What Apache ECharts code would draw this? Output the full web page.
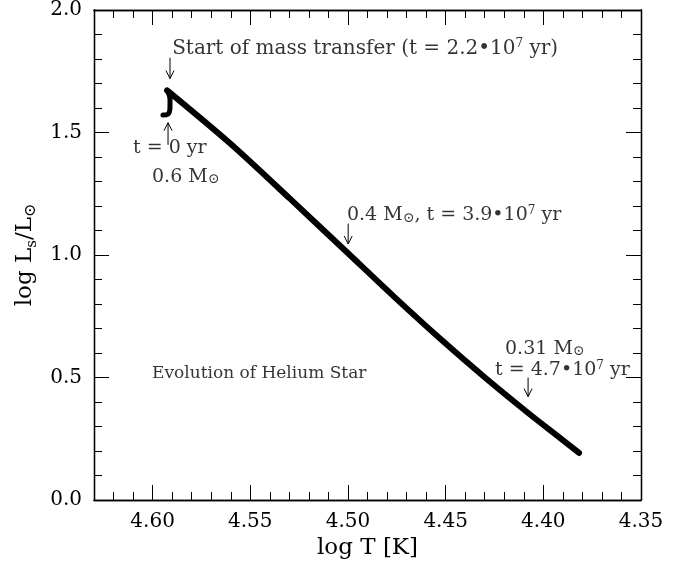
<!DOCTYPE html>
<html>
<head>
<meta charset="utf-8">
<script src="https://cdn.jsdelivr.net/npm/echarts@6/dist/echarts.min.js"></script>
<style>html,body{margin:0;padding:0;background:#fff}#c{width:685px;height:569px}</style>
</head>
<body>
<div id="c"></div>
<script>
// ---- data ----
// initial hook of the track (t = 0 to start of mass transfer)
const hookLogT = [4.5947, 4.5921, 4.5911, 4.5911, 4.5926];
const hookLogL = [1.571, 1.575, 1.603, 1.636, 1.672];
// main track after start of mass transfer
const trackLogT = [4.5926, 4.5604, 4.5297, 4.5005, 4.4759, 4.4529, 4.4299, 4.4068, 4.3915, 4.3817];
const trackLogL = [1.672, 1.456, 1.230, 1.011, 0.826, 0.659, 0.500, 0.349, 0.254, 0.192];
const xTicks = [4.60, 4.55, 4.50, 4.45, 4.40, 4.35];
const yTicks = [0.0, 0.5, 1.0, 1.5, 2.0];
// annotations: anchor (logT at left edge, logL at middle) and text
const noteLogT = [4.590, 4.610, 4.6003, 4.5005, 4.4196, 4.4247, 4.6003];
const noteLogL = [1.840, 1.437, 1.320, 1.162, 0.615, 0.530, 0.518];
const noteText = [
  'Start of mass transfer (t = 2.2•10{sup|7} yr)',
  't = 0 yr',
  '0.6 M{sun|⊙}',
  '0.4 M{sun|⊙}, t = 3.9•10{sup|7} yr',
  '0.31 M{sun|⊙}',
  't = 4.7•10{sup|7} yr',
  'Evolution of Helium Star'
];
// arrows: tail (logT, logL) -> tip (logT, logL)
const arrowFromT = [4.5911, 4.5921, 4.4999, 4.4078];
const arrowFromL = [1.805, 1.450, 1.128, 0.500];
const arrowToT   = [4.5911, 4.5921, 4.4999, 4.4078];
const arrowToL   = [1.720, 1.540, 1.045, 0.422];

const FONT = 'DejaVu Serif';
const hookData = hookLogT.map((t, i) => [t, hookLogL[i]]);
const trackData = trackLogT.map((t, i) => [t, trackLogL[i]]);
const noteData = noteLogT.map((t, i) => ({ value: [t, noteLogL[i]], name: noteText[i] }));
const arrowData = arrowFromT.map((t, i) => [t, arrowFromL[i], arrowToT[i], arrowToL[i]]);
const noteSizes = [20, 19, 19, 19, 19, 19, 17];

function richFor(size) {
  return {
    sup: { fontFamily: FONT, fontSize: Math.round(size * 0.62), color: '#000', verticalAlign: 'top', lineHeight: size + 2 },
    sun: { fontFamily: FONT, fontSize: Math.round(size * 0.72), color: '#000', verticalAlign: 'bottom', lineHeight: size }
  };
}

function xAxisDef(pos, interval, len, withLabels, withName) {
  return {
    type: 'value', position: pos, min: 4.35, max: 4.63, inverse: true, interval: interval,
    axisLine: { show: true, onZero: false, lineStyle: { color: '#000', width: 1.3 } },
    axisTick: { show: true, inside: true, length: len, lineStyle: { color: '#000', width: 1 } },
    axisLabel: withLabels ? {
      show: true, margin: 12, color: '#000', fontFamily: FONT, fontSize: 20,
      showMaxLabel: false,
      formatter: v => xTicks.some(t => Math.abs(t - v) < 1e-6) ? v.toFixed(2) : ''
    } : { show: false },
    splitLine: { show: false },
    name: withName ? 'log T [K]' : '', nameLocation: 'middle', nameGap: 32,
    nameTextStyle: { color: '#000', fontFamily: FONT, fontSize: 23 }
  };
}
function yAxisDef(pos, interval, len, withLabels, withName) {
  return {
    type: 'value', position: pos, min: 0, max: 2, interval: interval,
    axisLine: { show: true, onZero: false, lineStyle: { color: '#000', width: 1.3 } },
    axisTick: { show: true, inside: true, length: len, lineStyle: { color: '#000', width: 1 } },
    axisLabel: withLabels ? {
      show: true, margin: 12, color: '#000', fontFamily: FONT, fontSize: 20,
      formatter: v => yTicks.some(t => Math.abs(t - v) < 1e-6) ? v.toFixed(1) : ''
    } : { show: false },
    splitLine: { show: false },
    name: withName ? 'log L{s|s}/L{o|⊙}' : '', nameLocation: 'middle', nameGap: 54, nameRotate: 90,
    nameTextStyle: {
      color: '#000', fontFamily: FONT, fontSize: 23, lineHeight: 28,
      rich: {
        s: { fontFamily: FONT, fontSize: 15, color: '#000', verticalAlign: 'bottom', lineHeight: 24 },
        o: { fontFamily: FONT, fontSize: 16, color: '#000', verticalAlign: 'bottom', lineHeight: 24 }
      }
    }
  };
}

const chart = echarts.init(document.getElementById('c'), null, { renderer: 'canvas' });
chart.setOption({
  animation: false,
  backgroundColor: '#fff',
  grid: { left: 94, right: 44, top: 6, bottom: 69 },
  xAxis: [
    xAxisDef('bottom', 0.05, 15, true, true),
    xAxisDef('bottom', 0.01, 8, false, false),
    xAxisDef('top', 0.05, 15, false, false),
    xAxisDef('top', 0.01, 8, false, false)
  ],
  yAxis: [
    yAxisDef('left', 0.5, 15, true, true),
    yAxisDef('left', 0.1, 8, false, false),
    yAxisDef('right', 0.5, 15, false, false),
    yAxisDef('right', 0.1, 8, false, false)
  ],
  series: [
    {
      type: 'line', xAxisIndex: 0, yAxisIndex: 0, data: hookData, symbol: 'none', smooth: 0.4,
      lineStyle: { color: '#000', width: 5, join: 'round', cap: 'round' }, silent: true
    },
    {
      type: 'line', xAxisIndex: 0, yAxisIndex: 0, data: trackData, symbol: 'none', smooth: 0.3,
      lineStyle: { color: '#000', width: 6, join: 'round', cap: 'round' }, silent: true
    },
    {
      type: 'scatter', xAxisIndex: 0, yAxisIndex: 0, symbolSize: 0, silent: true,
      data: noteData.map((d, i) => Object.assign({}, d, {
        label: { fontSize: noteSizes[i], rich: richFor(noteSizes[i]) }
      })),
      label: {
        show: true, position: 'right', distance: 0, color: '#000', fontFamily: FONT, fontSize: 19,
        formatter: p => p.name, rich: richFor(19)
      }
    },
    {
      type: 'custom', xAxisIndex: 0, yAxisIndex: 0, data: arrowData, silent: true,
      renderItem: function (params, api) {
        const a = api.coord([api.value(0), api.value(1)]);
        const b = api.coord([api.value(2), api.value(3)]);
        const dx = b[0] - a[0], dy = b[1] - a[1];
        const L = Math.sqrt(dx * dx + dy * dy) || 1;
        const ux = dx / L, uy = dy / L;
        const h = 8, w = 4;
        const p1 = [b[0] - ux * h - uy * w, b[1] - uy * h + ux * w];
        const p2 = [b[0] - ux * h + uy * w, b[1] - uy * h - ux * w];
        return {
          type: 'group',
          children: [
            { type: 'line', shape: { x1: a[0], y1: a[1], x2: b[0], y2: b[1] }, style: { stroke: '#000', lineWidth: 1 } },
            { type: 'polyline', shape: { points: [p1, b, p2] }, style: { stroke: '#000', fill: null, lineWidth: 1 } }
          ]
        };
      }
    }
  ]
});
</script>
</body>
</html>
